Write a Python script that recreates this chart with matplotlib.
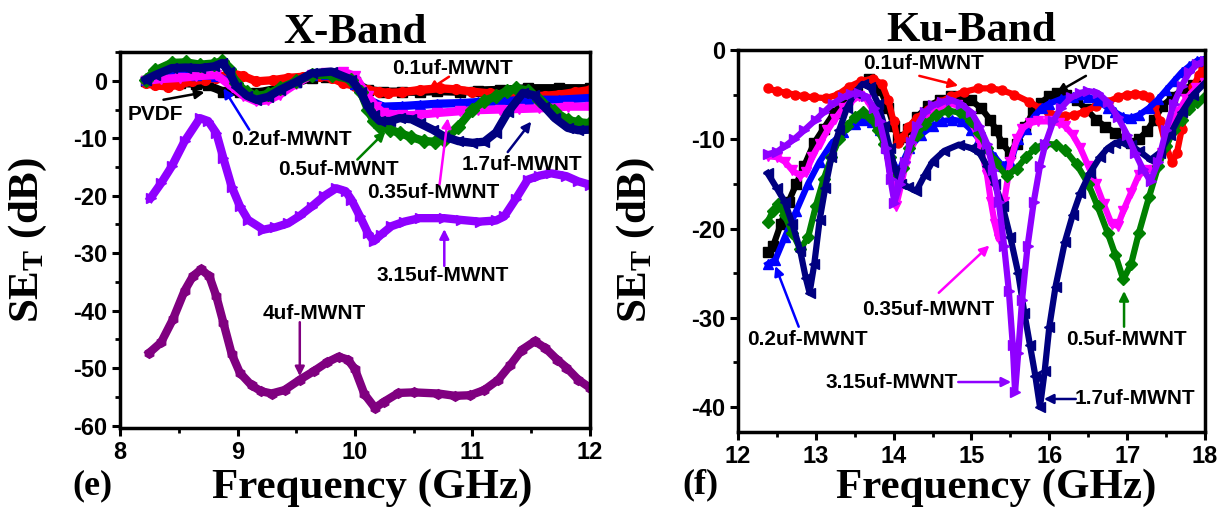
import matplotlib
matplotlib.use('Agg')
import matplotlib.pyplot as plt
from matplotlib.ticker import MultipleLocator

plt.rcParams['mathtext.fontset'] = 'custom'
plt.rcParams['mathtext.rm'] = 'Liberation Serif:bold'
plt.rcParams['mathtext.bf'] = 'Liberation Serif:bold'
plt.rcParams['axes.unicode_minus'] = False

# ---------------- X-band data (left panel) ----------------
x_pvdf_f = [8.22, 8.35, 8.51, 8.65, 8.75, 8.88, 9.02, 9.16, 9.36, 9.5, 9.63, 9.75, 9.9, 10.0, 10.11,
            10.24, 10.4, 10.55, 10.7, 10.89, 11.05, 11.23, 11.47, 11.74, 12.0]
x_pvdf_v = [0, 0.2, -0.4, -0.5, -0.8, -1.9, -1.9, -2.1, -1.3, -0.3, 0.5, 0.7, 0.5, -0.3, -1.6,
            -1.9, -1.9, -1.9, -1.8, -1.9, -1.7, -1.6, -1.3, -1.3, -1.3]

x_01_f = [8.22, 8.3, 8.41, 8.5, 8.61, 8.72, 8.82, 8.95, 9.05, 9.16, 9.3, 9.43, 9.56, 9.7, 9.8, 9.9,
          10.0, 10.11, 10.2, 10.28, 10.4, 10.55, 10.72, 10.86, 11.0, 11.15, 11.27, 11.4, 11.5, 11.62,
          11.74, 11.87, 12.0]
x_01_v = [-0.4, -0.8, -1.0, -0.7, -0.1, 0.2, 0.5, 1.3, 0.8, -0.1, 0.1, 0.5, 0.7, 0.8, 0.5, -0.4,
          -0.9, -1.6, -1.9, -2.1, -2.0, -1.6, -1.3, -1.5, -1.9, -2.2, -2.4, -2.6, -2.7, -2.6,
          -2.4, -2.0, -1.6]

x_02_f = [8.22, 8.35, 8.51, 8.65, 8.82, 8.95, 9.05, 9.16, 9.26, 9.36, 9.5, 9.63, 9.75, 9.9, 10.0,
          10.11, 10.24, 10.4, 10.55, 10.7, 10.89, 11.05, 11.23, 11.47, 11.74, 12.0]
x_02_v = [0.2, 0.8, 1.0, 1.0, 0.8, -0.4, -1.8, -2.7, -2.4, -1.6, -0.3, 1.0, 1.2, 1.0, -0.5,
          -3.3, -4.5, -4.4, -4.2, -4.0, -3.9, -3.7, -3.6, -3.3, -3.3, -3.0]

x_035_f = [8.22, 8.35, 8.51, 8.65, 8.82, 8.95, 9.05, 9.16, 9.26, 9.36, 9.5, 9.63, 9.75, 9.9, 10.0,
           10.11, 10.18, 10.24, 10.4, 10.55, 10.7, 10.89, 11.05, 11.23, 11.4, 11.57, 11.81, 12.0]
x_035_v = [0, 0.3, 0.5, 0.8, 1.0, -1.0, -2.6, -3.6, -3.4, -2.4, -0.5, 1.0, 1.4, 1.6, 0.8,
           -2.7, -4.5, -5.6, -6.0, -5.9, -5.6, -5.3, -5.1, -5.0, -4.9, -4.8, -4.5, -4.5]

x_05_f = [8.22, 8.3, 8.44, 8.56, 8.68, 8.8, 8.87, 8.93, 8.99, 9.08, 9.16, 9.26, 9.36, 9.5, 9.63,
          9.8, 9.97, 10.05, 10.11, 10.16, 10.21, 10.3, 10.38, 10.48, 10.59, 10.68, 10.76, 10.88,
          11.0, 11.1, 11.2, 11.29, 11.37, 11.47, 11.57, 11.69, 11.81, 11.9, 12.0]
x_05_v = [0.2, 1.8, 3.1, 3.2, 2.8, 3.0, 3.4, 2.0, -0.4, -2.0, -2.7, -2.3, -1.3, -0.1, 1.0,
          1.0, 0.2, -2.0, -5.0, -7.0, -8.0, -8.5, -9.1, -9.8, -10.5, -10.6, -10.3, -8.0,
          -5.0, -3.5, -2.7, -1.8, -1.3, -1.7, -3.3, -5.2, -6.8, -7.2, -7.4]

x_17_f = [8.22, 8.3, 8.44, 8.56, 8.68, 8.8, 8.87, 8.93, 8.99, 9.08, 9.16, 9.26, 9.36, 9.5, 9.63,
          9.8, 9.97, 10.05, 10.11, 10.16, 10.21, 10.3, 10.38, 10.48, 10.55, 10.66, 10.76, 10.88,
          11.0, 11.1, 11.2, 11.3, 11.43, 11.52, 11.61, 11.7, 11.81, 11.9, 12.0]
x_17_v = [0.2, 1.0, 2.2, 2.3, 2.2, 2.5, 3.1, 1.5, -1.0, -2.6, -3.3, -2.8, -1.6, -0.2, 1.3,
          1.6, 0.2, -2.0, -4.5, -6.0, -7.0, -7.0, -6.5, -6.7, -7.4, -8.5, -9.7, -10.5,
          -10.8, -10.6, -9.0, -5.5, -2.1, -2.5, -4.5, -6.5, -8.2, -8.6, -8.5]

x_315_f = [8.26, 8.35, 8.44, 8.55, 8.68, 8.75, 8.82, 8.88, 8.95, 9.02, 9.09, 9.22, 9.32, 9.43, 9.53,
           9.63, 9.74, 9.84, 9.92, 9.97, 10.04, 10.11, 10.16, 10.22, 10.31, 10.42, 10.55, 10.76,
           10.9, 11.06, 11.2, 11.27, 11.37, 11.47, 11.57, 11.67, 11.8, 11.9, 12.0]
x_315_v = [-20.4, -17.8, -14.9, -10.5, -6.5, -7.0, -9.1, -13.5, -18.4, -21.8, -24.2, -25.9, -25.5,
           -24.8, -23.5, -21.9, -20.0, -18.7, -19.2, -20.7, -23.5, -26.5, -27.9, -26.8, -25.3,
           -24.5, -23.9, -23.9, -24.2, -24.5, -24.3, -23.6, -20.5, -17.2, -16.5, -16.1, -16.6,
           -17.5, -18.1]

x_4_f = [8.25, 8.35, 8.45, 8.55, 8.62, 8.69, 8.76, 8.82, 8.88, 8.95, 9.02, 9.12, 9.2, 9.29, 9.4,
         9.53, 9.65, 9.76, 9.86, 9.94, 10.0, 10.08, 10.17, 10.25, 10.37, 10.5, 10.71, 10.85, 10.98,
         11.1, 11.22, 11.32, 11.42, 11.53, 11.62, 11.72, 11.8, 11.9, 12.0]
x_4_v = [-47.3, -45.5, -41.5, -36.5, -34.0, -32.8, -34.0, -37.5, -42.1, -47.5, -50.8, -53.0, -54.0,
         -54.4, -53.8, -52.0, -50.5, -49.0, -48.0, -48.5, -50.2, -54.5, -56.9, -55.8, -54.3, -54.2,
         -54.4, -54.8, -54.7, -53.8, -52.0, -49.5, -46.8, -45.3, -46.5, -48.5, -49.9, -52.0, -53.4]

# ---------------- Ku-band data (right panel) ----------------
k_pvdf_f = [12.38, 12.45, 12.55, 12.65, 12.75, 12.85, 12.98, 13.1, 13.23, 13.38, 13.53, 13.68, 13.83,
            13.93, 14.0, 14.06, 14.12, 14.19, 14.3, 14.44, 14.6, 14.74, 14.87, 14.99, 15.12, 15.24,
            15.32, 15.39, 15.49, 15.58, 15.69, 15.79, 15.89, 16.0, 16.1, 16.22, 16.35, 16.47, 16.6,
            16.72, 16.85, 16.95, 17.05, 17.15, 17.25, 17.35, 17.45, 17.58, 17.7, 17.85, 17.98]
k_pvdf_v = [-22.6, -22.0, -19.5, -17.0, -15.0, -13.0, -10.4, -8.8, -7.1, -5.5, -4.3, -3.3, -4.5,
            -6.5, -8.5, -10.0, -9.7, -8.9, -7.5, -6.3, -5.6, -5.2, -5.3, -5.6, -6.5, -7.8,
            -9.0, -10.4, -11.5, -10.5, -8.6, -7.0, -5.9, -5.2, -4.8, -5.0, -5.6, -6.6, -7.8,
            -8.6, -9.3, -10.0, -10.4, -10.0, -9.1, -7.8, -6.3, -5.3, -4.5, -3.9, -3.5]

k_01_f = [12.38, 12.5, 12.62, 12.73, 12.85, 12.98, 13.13, 13.28, 13.43, 13.58, 13.73, 13.85, 13.93,
          14.0, 14.06, 14.12, 14.19, 14.3, 14.44, 14.6, 14.74, 14.9, 15.09, 15.25, 15.39, 15.55,
          15.74, 15.88, 15.99, 16.1, 16.2, 16.32, 16.45, 16.6, 16.75, 16.88, 17.0, 17.1, 17.2,
          17.28, 17.35, 17.42, 17.5, 17.58, 17.64, 17.7, 17.78, 17.85, 17.92, 17.98]
k_01_v = [-4.3, -4.6, -4.8, -5.0, -5.2, -5.3, -5.4, -5.0, -4.1, -3.5, -3.2, -3.8, -5.6,
          -8.0, -10.4, -9.8, -8.6, -7.6, -6.7, -5.8, -5.2, -4.7, -4.3, -4.3, -4.5, -5.0,
          -5.8, -6.5, -7.1, -7.3, -7.4, -7.3, -6.9, -6.3, -5.8, -5.3, -5.0, -4.9, -5.0,
          -5.3, -6.3, -8.0, -10.8, -12.6, -11.5, -8.9, -6.0, -4.1, -2.8, -1.9]

k_02_f = [12.38, 12.48, 12.6, 12.75, 12.9, 13.05, 13.2, 13.35, 13.5, 13.62, 13.72, 13.82, 13.92,
          14.0, 14.05, 14.12, 14.2, 14.35, 14.5, 14.62, 14.75, 14.88, 15.0, 15.1, 15.2, 15.3, 15.4,
          15.5, 15.6, 15.7, 15.8, 15.9, 16.0, 16.15, 16.3, 16.5, 16.62, 16.75, 16.85, 16.95, 17.05,
          17.15, 17.28, 17.4, 17.5, 17.6, 17.7, 17.8, 17.9, 18.0]
k_02_v = [-24.0, -23.5, -21.0, -18.0, -15.0, -12.5, -10.5, -9.2, -8.3, -7.8, -8.1, -9.0, -11.0,
          -12.8, -14.0, -12.5, -11.0, -9.5, -8.5, -8.0, -7.8, -8.0, -9.0, -10.0, -11.0, -12.0, -13.0,
          -12.5, -10.0, -8.8, -7.5, -6.5, -6.0, -5.5, -5.3, -5.3, -5.6, -6.5, -7.0, -7.5, -7.6,
          -7.3, -6.5, -5.5, -4.5, -3.5, -2.5, -1.8, -1.2, -1.0]

k_035_f = [12.38, 12.5, 12.6, 12.7, 12.8, 12.88, 12.95, 13.05, 13.15, 13.25, 13.35, 13.45, 13.55,
           13.65, 13.75, 13.82, 13.9, 13.96, 14.03, 14.1, 14.15, 14.22, 14.3, 14.4, 14.5, 14.6, 14.7,
           14.82, 14.95, 15.05, 15.12, 15.2, 15.25, 15.3, 15.35, 15.42, 15.5, 15.58, 15.65, 15.75,
           15.85, 16.0, 16.12, 16.2, 16.3, 16.4, 16.5, 16.6, 16.7, 16.8, 16.88, 16.95, 17.05, 17.15,
           17.25, 17.35, 17.45, 17.55, 17.65, 17.75, 17.88, 18.0]
k_035_v = [-11.9, -12.0, -12.5, -13.5, -14.1, -13.7, -12.0, -10.5, -9.0, -7.7, -6.5, -5.8, -5.2,
           -5.5, -7.0, -8.5, -11.0, -14.0, -17.5, -15.0, -13.0, -11.0, -9.0, -7.8, -7.0, -6.5, -6.0,
           -6.2, -7.5, -9.0, -11.0, -14.0, -17.0, -19.5, -21.2, -17.0, -12.5, -10.0, -8.8, -8.2,
           -8.0, -8.0, -8.2, -8.5, -9.5, -11.0, -13.0, -15.0, -17.3, -19.5, -19.7, -18.0, -16.0,
           -14.0, -13.5, -13.4, -11.5, -9.0, -7.0, -5.5, -4.3, -3.7]

k_05_f = [12.38, 12.45, 12.52, 12.6, 12.7, 12.8, 12.9, 13.0, 13.1, 13.2, 13.3, 13.4, 13.5, 13.6,
          13.7, 13.8, 13.88, 13.95, 14.05, 14.12, 14.2, 14.3, 14.4, 14.55, 14.7, 14.85, 15.0, 15.1,
          15.2, 15.3, 15.45, 15.58, 15.7, 15.82, 15.95, 16.08, 16.2, 16.35, 16.5, 16.62, 16.75,
          16.85, 16.95, 17.05, 17.15, 17.28, 17.4, 17.5, 17.6, 17.7, 17.8, 17.9, 18.0]
k_05_v = [-19.3, -18.0, -17.3, -18.5, -20.5, -22.3, -21.0, -17.5, -14.5, -12.0, -10.0, -8.5, -7.5,
          -6.9, -7.5, -9.0, -10.5, -12.0, -14.0, -13.2, -11.0, -9.5, -8.3, -7.3, -6.8, -7.0, -8.0,
          -9.3, -11.0, -12.5, -14.1, -13.3, -12.0, -11.0, -10.5, -10.6, -11.2, -12.8, -15.0, -17.5,
          -20.5, -23.0, -25.7, -24.0, -20.5, -16.5, -13.0, -10.8, -9.0, -7.8, -6.6, -5.8, -5.3]

k_17_f = [12.38, 12.5, 12.6, 12.7, 12.8, 12.87, 12.92, 12.98, 13.05, 13.12, 13.2, 13.3, 13.4, 13.5,
          13.6, 13.7, 13.8, 13.88, 13.95, 14.02, 14.1, 14.18, 14.29, 14.4, 14.5, 14.65, 14.84, 15.0,
          15.1, 15.2, 15.3, 15.4, 15.5, 15.6, 15.68, 15.75, 15.82, 15.88, 15.94, 16.0, 16.08, 16.2,
          16.3, 16.4, 16.52, 16.65, 16.75, 16.85, 16.95, 17.05, 17.15, 17.3, 17.42, 17.55, 17.7,
          17.85, 18.0]
k_17_v = [-13.8, -15.5, -17.0, -19.5, -22.5, -25.5, -27.2, -24.0, -19.0, -15.5, -12.0, -9.0, -6.5,
          -4.8, -3.8, -4.2, -6.0, -8.5, -11.0, -13.5, -15.0, -15.3, -15.8, -14.0, -12.5, -11.3,
          -10.6, -11.0, -11.5, -13.0, -15.0, -17.5, -21.0, -25.0, -29.5, -33.0, -36.5, -40.0,
          -36.0, -31.0, -26.5, -21.5, -18.5, -16.0, -13.8, -12.0, -11.0, -10.4, -10.4, -10.7,
          -11.3, -12.3, -11.5, -9.5, -7.0, -5.0, -3.7]

k_315_f = [12.38, 12.5, 12.6, 12.72, 12.85, 13.0, 13.1, 13.22, 13.35, 13.45, 13.55, 13.65, 13.75,
           13.82, 13.9, 13.96, 14.01, 14.08, 14.15, 14.22, 14.3, 14.4, 14.5, 14.62, 14.74, 14.86,
           15.0, 15.1, 15.2, 15.28, 15.35, 15.42, 15.48, 15.53, 15.56, 15.6, 15.65, 15.72, 15.8,
           15.88, 15.95, 16.05, 16.15, 16.28, 16.4, 16.5, 16.62, 16.75, 16.88, 17.0, 17.1, 17.2,
           17.3, 17.4, 17.5, 17.6, 17.7, 17.8, 17.9, 18.0]
k_315_v = [-11.7, -11.4, -10.8, -10.0, -9.0, -7.8, -7.0, -6.0, -5.3, -4.9, -4.8, -5.2, -6.5,
           -8.0, -11.0, -14.5, -17.1, -15.0, -12.5, -10.3, -8.5, -7.0, -6.2, -5.8, -5.6, -6.0,
           -7.0, -8.5, -10.5, -13.5, -17.0, -22.0, -27.0, -33.0, -38.3, -34.0, -28.0, -22.0, -17.0,
           -13.0, -10.5, -8.0, -6.5, -5.3, -4.8, -4.6, -4.8, -5.8, -7.5, -9.5, -11.5, -13.3,
           -14.7, -12.5, -9.0, -6.0, -4.0, -2.5, -1.6, -1.2]

# series style: (color, marker)
styles = {
    'PVDF': ('black', 's'),
    '0.1': ('#ff0000', 'o'),
    '0.2': ('#0000ff', '^'),
    '0.35': ('#ff00ff', 'v'),
    '0.5': ('#008000', 'D'),
    '1.7': ('#000080', '<'),
    '3.15': ('#8f00ff', '>'),
    '4': ('#800080', 'h'),
}

x_series = [('PVDF', x_pvdf_f, x_pvdf_v), ('0.1', x_01_f, x_01_v), ('0.2', x_02_f, x_02_v),
            ('0.35', x_035_f, x_035_v), ('0.5', x_05_f, x_05_v), ('1.7', x_17_f, x_17_v),
            ('3.15', x_315_f, x_315_v), ('4', x_4_f, x_4_v)]
k_series = [('PVDF', k_pvdf_f, k_pvdf_v), ('0.1', k_01_f, k_01_v), ('0.2', k_02_f, k_02_v),
            ('0.35', k_035_f, k_035_v), ('0.5', k_05_f, k_05_v), ('1.7', k_17_f, k_17_v),
            ('3.15', k_315_f, k_315_v)]

# label text: (series, text, text position, arrow tail, arrow head)
x_notes = [('PVDF', 'PVDF', (8.3, -5.9), (8.37, -3.3), (8.72, -2.0)),
           ('0.1', '0.1uf-MWNT', (10.83, 2.1), (10.8, 0.7), (10.62, -1.7)),
           ('0.2', '0.2uf-MWNT', (9.46, -10.3), (9.1, -8.5), (8.88, -1.3)),
           ('0.5', '0.5uf-MWNT', (9.86, -15.4), (10.02, -13.7), (10.26, -8.8)),
           ('0.35', '0.35uf-MWNT', (10.67, -19.4), (10.72, -18.0), (10.79, -6.5)),
           ('1.7', '1.7uf-MWNT', (11.42, -14.5), (11.3, -12.4), (11.5, -7.1)),
           ('3.15', '3.15uf-MWNT', (10.75, -33.8), (10.76, -32.2), (10.76, -25.8)),
           ('4', '4uf-MWNT', (9.65, -40.4), (9.53, -42.0), (9.53, -51.4))]
k_notes = [('0.1', '0.1uf-MWNT', (14.38, -1.5), (14.33, -2.9), (14.83, -4.0)),
           ('PVDF', 'PVDF', (16.54, -1.5), (16.47, -2.9), (16.09, -4.8)),
           ('0.2', '0.2uf-MWNT', (12.89, -32.4), (12.78, -31.0), (12.48, -24.2)),
           ('0.35', '0.35uf-MWNT', (14.45, -29.1), (14.58, -27.2), (15.23, -21.9)),
           ('0.5', '0.5uf-MWNT', (16.99, -32.4), (16.96, -31.0), (16.96, -27.0)),
           ('3.15', '3.15uf-MWNT', (13.97, -37.2), (14.83, -37.2), (15.51, -37.2)),
           ('1.7', '1.7uf-MWNT', (17.1, -39.0), (16.34, -39.1), (15.93, -39.1))]

serif = 'Liberation Serif'
sans = 'Liberation Sans'

fig = plt.figure(figsize=(12.21, 5.07), dpi=100)
axL = fig.add_axes([0.0983, 0.1558, 0.3849, 0.7416])
axR = fig.add_axes([0.6044, 0.1479, 0.3825, 0.7535])

for ax, series, lw, ms in [(axL, x_series, 6, 7), (axR, k_series, 4.5, 6.5)]:
    for key, f, v in series:
        c, m = styles[key]
        ax.plot(f, v, color=c, lw=lw, marker=m, ms=ms, mec=c, mfc=c)


def style_axis(ax, xlab_x, ylab_x):
    for s in ax.spines.values():
        s.set_linewidth(2.5)
    ax.tick_params(which='major', direction='out', length=6, width=2.2, pad=3)
    ax.tick_params(which='minor', direction='out', length=3.5, width=2)
    for lab in ax.get_xticklabels() + ax.get_yticklabels():
        lab.set_fontfamily(sans)
        lab.set_fontweight('bold')
        lab.set_fontsize(17)
    ax.set_xlabel('Frequency (GHz)', fontfamily=serif, fontweight='bold', fontsize=31, va='baseline')
    ax.xaxis.set_label_coords(xlab_x, 0.0178, transform=fig.transFigure)
    ax.set_ylabel(r'$\mathbf{SE_T}$ (dB)', fontfamily=serif, fontweight='bold', fontsize=31)
    ax.yaxis.set_label_coords(ylab_x, 0.527, transform=fig.transFigure)


axL.set_xlim(8, 12)
axL.set_ylim(-60.4, 5)
axL.xaxis.set_major_locator(MultipleLocator(1))
axL.xaxis.set_minor_locator(MultipleLocator(0.5))
axL.yaxis.set_major_locator(MultipleLocator(10))
axL.yaxis.set_minor_locator(MultipleLocator(5))
style_axis(axL, 0.3047, 0.040)
axL.set_title('X-Band', fontfamily=serif, fontweight='bold', fontsize=31, pad=3)

axR.set_xlim(12, 18)
axR.set_ylim(-42.8, 0)
axR.xaxis.set_major_locator(MultipleLocator(1))
axR.xaxis.set_minor_locator(MultipleLocator(0.5))
axR.yaxis.set_major_locator(MultipleLocator(10))
axR.yaxis.set_minor_locator(MultipleLocator(5))
style_axis(axR, 0.8157, 0.538)
axR.set_title('Ku-Band', fontfamily=serif, fontweight='bold', fontsize=31, pad=3)

fig.text(0.0754, 0.041, '(e)', fontfamily=serif, fontweight='bold', fontsize=26, ha='center', va='center')
fig.text(0.5733, 0.043, '(f)', fontfamily=serif, fontweight='bold', fontsize=26, ha='center', va='center')

for ax, notes in [(axL, x_notes), (axR, k_notes)]:
    for key, text, pos, tail, head in notes:
        c = styles[key][0]
        ax.text(pos[0], pos[1], text, ha='center', va='center', fontsize=15,
                fontweight='bold', fontfamily=sans, zorder=5)
        ax.annotate('', xy=head, xytext=tail,
                    arrowprops=dict(arrowstyle='-|>', color=c, lw=1.8, mutation_scale=14,
                                    shrinkA=0, shrinkB=0), zorder=5)

fig.savefig('out.png', dpi=100)
